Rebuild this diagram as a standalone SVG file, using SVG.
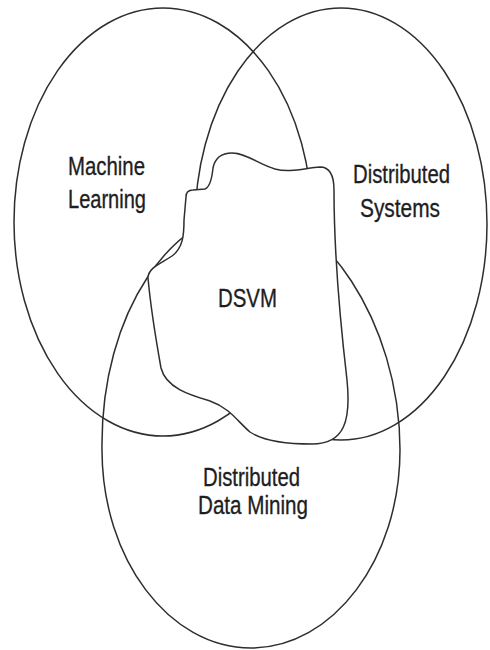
<svg xmlns="http://www.w3.org/2000/svg" width="490" height="650" viewBox="0 0 490 650">
  <style>
    .set { fill: none; stroke: #2e2e2e; stroke-width: 1.5; }
    .blob { fill: #ffffff; stroke: #2e2e2e; stroke-width: 1.5; stroke-linejoin: round; }
    .lbl { font-family: "Liberation Sans", Arial, sans-serif; font-size: 26px; fill: #1e1e1e; stroke: #1e1e1e; stroke-width: 0.35; }
  </style>
  <rect width="490" height="650" fill="#ffffff"/>
  <g id="machine-learning">
    <ellipse class="set" cx="163" cy="222" rx="149" ry="214"/>
    <text class="lbl" x="68" y="175" textLength="77" lengthAdjust="spacingAndGlyphs">Machine</text>
    <text class="lbl" x="68" y="208" textLength="78" lengthAdjust="spacingAndGlyphs">Learning</text>
  </g>
  <g id="distributed-systems">
    <ellipse class="set" cx="341" cy="224" rx="146" ry="216"/>
    <text class="lbl" x="353" y="183" textLength="97" lengthAdjust="spacingAndGlyphs">Distributed</text>
    <text class="lbl" x="360" y="217" textLength="80" lengthAdjust="spacingAndGlyphs">Systems</text>
  </g>
  <g id="distributed-data-mining">
    <path class="set" d="M252,210 C320,210 400,320 400,450 C400,559 333,648 251,648 C169,648 102,559 102,450 C100,310 175,210 252,210 Z"/>
    <text class="lbl" x="203" y="486" textLength="97" lengthAdjust="spacingAndGlyphs">Distributed</text>
    <text class="lbl" x="198" y="514" textLength="110" lengthAdjust="spacingAndGlyphs">Data Mining</text>
  </g>
  <g id="dsvm">
    <path class="blob" d="M186,197 C186,192 188,190 193,190 L205,189 C210,187 212,178 213,168 C215,158 222,153 232,153 C246,153 258,164 275,169 C290,173 305,168 320,167 C330,167 334,175 334,190 C334,250 340,320 347,380 C351,420 345,444 312,444 C285,444 262,440 250,432 C238,422 230,408 210,401 C190,395 166,388 161,368 C156,340 150,300 148,278 C148,268 160,264 172,256 C183,248 184,235 184,220 Z"/>
    <text class="lbl" x="218" y="307" textLength="59" lengthAdjust="spacingAndGlyphs">DSVM</text>
  </g>
</svg>
